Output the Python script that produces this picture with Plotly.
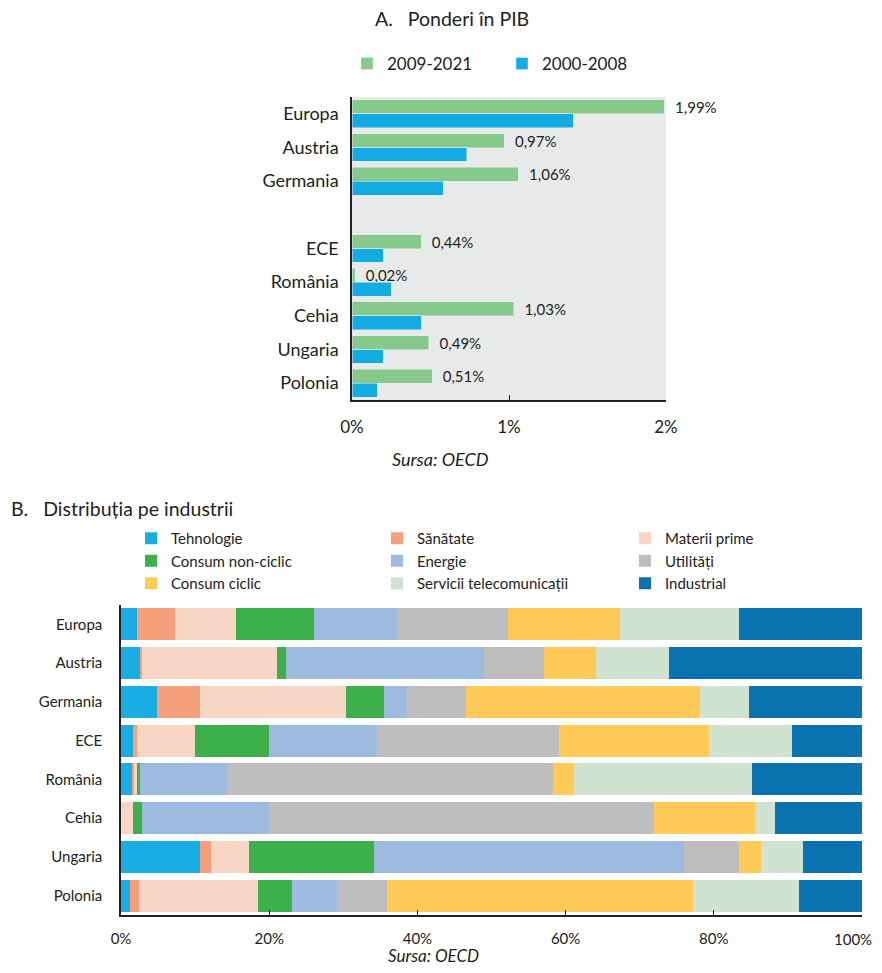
import plotly.graph_objects as go

# Panel A: ponderi in PIB (%)
countries_a = ['Europa', 'Austria', 'Germania', ' ', 'ECE', 'România', 'Cehia', 'Ungaria', 'Polonia']
period_recent = [1.99, 0.97, 1.06, None, 0.44, 0.02, 1.03, 0.49, 0.51]
period_old = [1.41, 0.73, 0.58, None, 0.20, 0.25, 0.44, 0.20, 0.16]

# Panel B: distributia pe industrii (%)
countries_b = ['Europa', 'Austria', 'Germania', 'ECE', 'România', 'Cehia', 'Ungaria', 'Polonia']
tehnologie = [2.1, 2.5, 4.9, 1.6, 1.6, 0.0, 10.7, 1.2]
sanatate = [5.2, 0.3, 5.8, 0.6, 0.1, 0.0, 1.5, 1.2]
materii_prime = [8.2, 18.2, 19.6, 7.8, 0.4, 1.6, 5.1, 16.1]
consum_nonciclic = [10.5, 1.2, 5.2, 10.0, 0.5, 1.2, 16.8, 4.6]
energie = [11.3, 26.8, 3.1, 14.5, 11.7, 17.2, 41.9, 6.1]
utilitati = [14.9, 8.1, 7.9, 24.6, 44.0, 51.9, 7.4, 6.7]
consum_ciclic = [15.2, 7.0, 31.6, 20.3, 2.8, 13.6, 3.0, 41.3]
telecom = [16.0, 9.8, 6.7, 11.1, 24.1, 2.8, 5.6, 14.3]
industrial = [16.6, 26.1, 15.2, 9.5, 14.8, 11.7, 8.0, 8.5]

PAGE_OFFSET = 8  # default body margin of the html page
# keep the whole page inside the window
W, H = 882 - PAGE_OFFSET, 973 - 2 * PAGE_OFFSET
FONT = 'Lato'


def px_x(x):
    # screen pixel -> paper coordinate
    return (x - PAGE_OFFSET) / W


def px_y(y):
    return 1 - (y - PAGE_OFFSET) / H


def fmt(v):
    # small gap between bar end and label, like the original
    return '\u00a0\u00a0' + f'{v:.2f}'.replace('.', ',') + '%'


fig = go.Figure()

# Panel A bars
fig.add_trace(go.Bar(
    y=countries_a, x=period_recent, name='2009-2021', orientation='h',
    marker_color='#85C98B',
    text=[fmt(v) if v is not None else '' for v in period_recent],
    textposition='outside', cliponaxis=False, constraintext='none',
    textfont=dict(size=15, color='#222'),
    offsetgroup='recent',
    xaxis='x', yaxis='y', legend='legend',
))
fig.add_trace(go.Bar(
    y=countries_a, x=period_old, name='2000-2008', orientation='h',
    marker_color='#12ACE3',
    offsetgroup='old',
    xaxis='x', yaxis='y', legend='legend',
))

# Panel B stacked bars; legend columns follow the reference layout
industries = [
    ('Tehnologie', tehnologie, '#1AADE3', 'legend2'),
    ('Sănătate', sanatate, '#F5A07A', 'legend3'),
    ('Materii prime', materii_prime, '#F8D6C6', 'legend4'),
    ('Consum non-ciclic', consum_nonciclic, '#3DB04B', 'legend2'),
    ('Energie', energie, '#9DBBDF', 'legend3'),
    ('Utilități', utilitati, '#BEBEBE', 'legend4'),
    ('Consum ciclic', consum_ciclic, '#FFCA57', 'legend2'),
    ('Servicii telecomunicații', telecom, '#D0E3D1', 'legend3'),
    ('Industrial', industrial, '#0B72B0', 'legend4'),
]
for name, vals, color, leg in industries:
    fig.add_trace(go.Bar(
        y=countries_b, x=vals, name=name, orientation='h',
        marker=dict(color=color, line=dict(width=0)),
        offsetgroup='b',
        xaxis='x2', yaxis='y2', legend=leg,
    ))

legend_common = dict(
    orientation='v', traceorder='normal', bgcolor='rgba(0,0,0,0)',
    font=dict(family=FONT, size=15, color='#222'),
    yanchor='top', xanchor='left', tracegroupgap=0,
)

fig.update_layout(
    width=W, height=H,
    margin=dict(l=0, r=0, t=0, b=0, autoexpand=False),
    paper_bgcolor='white',
    plot_bgcolor='white',
    font=dict(family=FONT, size=14, color='#222'),
    barmode='stack',
    bargap=0.17,
    bargroupgap=0,
    showlegend=True,
    # panel A
    xaxis=dict(
        domain=[px_x(352), px_x(666)], anchor='y', range=[0, 2],
        tickvals=[0, 1, 2], ticktext=['0%', '1%', '2%'],
        ticks='inside', ticklen=5, tickcolor='#222',
        showline=True, linecolor='#222', linewidth=1.5,
        showgrid=False, zeroline=False, ticklabelstandoff=11,
        tickfont=dict(size=17),
    ),
    yaxis=dict(
        domain=[px_y(400), px_y(97)], anchor='x', type='category',
        categoryorder='array', categoryarray=countries_a,
        autorange='reversed', showline=True, linecolor='#222', linewidth=1.5,
        showgrid=False, ticks='', ticklabelstandoff=8,
        tickfont=dict(size=18),
    ),
    # panel B (last label "100%" is an annotation so it is not cut at the page edge)
    xaxis2=dict(
        domain=[px_x(121), px_x(862)], anchor='y2', range=[0, 100],
        tickvals=[0, 20, 40, 60, 80, 100],
        ticktext=['0%', '20%', '40%', '60%', '80%', ''],
        ticks='inside', ticklen=5, tickcolor='#222',
        showline=True, linecolor='#222', linewidth=1.5,
        showgrid=True, gridcolor='white', zeroline=False,
        ticklabelstandoff=9, tickfont=dict(size=15),
    ),
    yaxis2=dict(
        domain=[px_y(915), px_y(605)], anchor='x2', type='category',
        categoryorder='array', categoryarray=countries_b,
        autorange='reversed', showline=True, linecolor='#222', linewidth=1.5,
        showgrid=False, ticks='', ticklabelstandoff=14,
        tickfont=dict(size=15),
    ),
    legend=dict(
        orientation='h', x=px_x(347), y=px_y(46), xanchor='left', yanchor='top',
        entrywidth=110, font=dict(family=FONT, size=17, color='#222'),
        bgcolor='rgba(0,0,0,0)', traceorder='normal',
    ),
    legend2=dict(x=px_x(131), y=px_y(522), **legend_common),
    legend3=dict(x=px_x(377), y=px_y(522), **legend_common),
    legend4=dict(x=px_x(625), y=px_y(522), **legend_common),
    annotations=[
        dict(text='A.   Ponderi în PIB', x=px_x(373), y=px_y(19),
             xref='paper', yref='paper', xanchor='left', yanchor='middle',
             showarrow=False, font=dict(size=19.5, color='#222')),
        dict(text='<i>Sursa: OECD</i>', x=px_x(440), y=px_y(459),
             xref='paper', yref='paper', xanchor='center', yanchor='middle',
             showarrow=False, font=dict(size=18, color='#222')),
        dict(text='B.   Distribuția pe industrii', x=px_x(9), y=px_y(508),
             xref='paper', yref='paper', xanchor='left', yanchor='middle',
             showarrow=False, font=dict(size=19.5, color='#222')),
        dict(text='100%', x=px_x(874), y=px_y(939),
             xref='paper', yref='paper', xanchor='right', yanchor='middle',
             showarrow=False, font=dict(size=15, color='#222')),
        dict(text='<i>Sursa: OECD</i>', x=px_x(386), y=px_y(955),
             xref='paper', yref='paper', xanchor='left', yanchor='middle',
             showarrow=False, font=dict(size=17, color='#222')),
    ],
)

# grey plotting area only for panel A
fig.add_shape(type='rect', xref='x domain', yref='y domain', x0=0, x1=1, y0=0, y1=1,
              fillcolor='#E7EAE9', line_width=0, layer='below')

fig.write_html('out.html')
